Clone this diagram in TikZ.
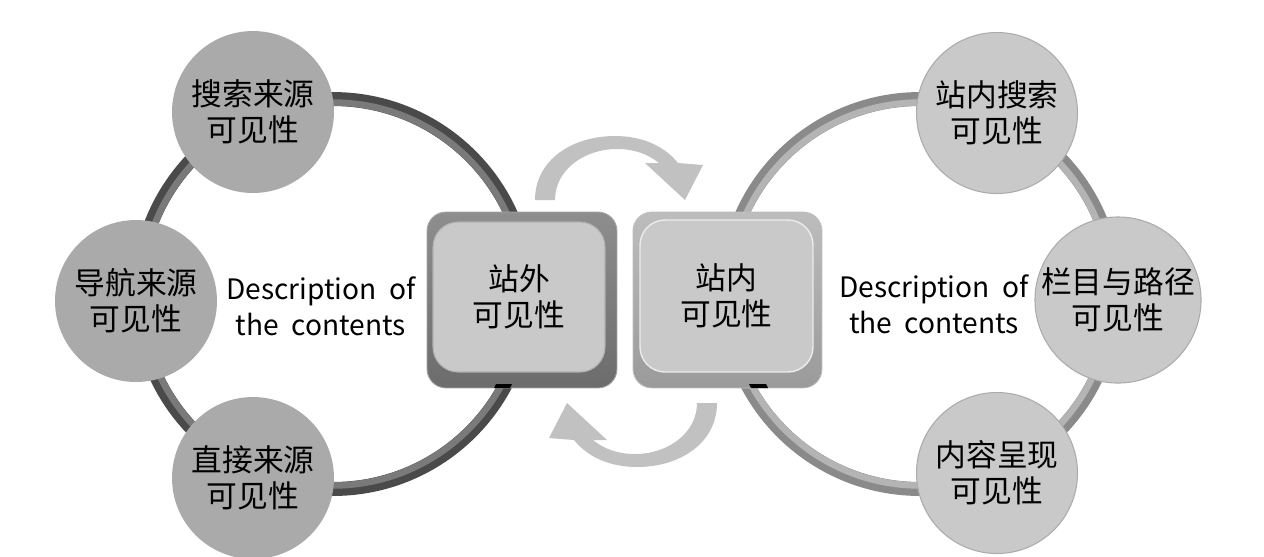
\documentclass[tikz,border=0pt]{standalone}
\usepackage{fontspec}
\setmainfont{Noto Sans CJK SC}
\definecolor{ringLout}{HTML}{4A4A4A}
\definecolor{ringLin}{HTML}{7A7A7A}
\definecolor{ringRout}{HTML}{8A8A8A}
\definecolor{ringRin}{HTML}{B4B4B4}
\definecolor{bubL}{HTML}{A9AAA9}
\definecolor{bubR}{HTML}{C9C9C9}
\definecolor{bubRedge}{HTML}{ABABAB}
\definecolor{arrowgray}{HTML}{C0C1C0}
\definecolor{frameLtop}{HTML}{8E8E8E}
\definecolor{frameLbot}{HTML}{6C6C6C}
\definecolor{frameRtop}{HTML}{BDBDBD}
\definecolor{frameRbot}{HTML}{9A9A9A}
\definecolor{facegray}{HTML}{C9C9C9}
\begin{document}
\begin{tikzpicture}[x=0.02cm,y=-0.02cm,
  cntext/.style={font=\fontsize{17.5}{20.5}\selectfont, align=center, text=black},
  bubbleL/.style={circle, fill=bubL, draw=none, minimum size=3.24cm, inner sep=0pt, cntext},
  bubbleR/.style={circle, fill=bubR, draw=bubRedge, line width=0.6pt, minimum size=3.22cm, inner sep=0pt, cntext},
  desc/.style={font=\fontsize{16}{20.5}\selectfont, align=center, text=black},
  frameL/.style={rectangle, rounded corners=0.38cm, top color=frameLtop, bottom color=frameLbot, draw=frameLtop!80!white, line width=0.5pt, minimum width=3.8cm, minimum height=3.52cm},
  frameR/.style={rectangle, rounded corners=0.38cm, top color=frameRtop, bottom color=frameRbot, draw=frameRtop, line width=0.5pt, minimum width=3.78cm, minimum height=3.52cm},
  faceL/.style={rectangle, rounded corners=0.5cm, fill=facegray, draw=frameLtop!70!white, line width=0.6pt, minimum width=3.44cm, minimum height=3.0cm, cntext},
  faceR/.style={rectangle, rounded corners=0.5cm, fill=facegray, draw=white!85!gray, line width=0.8pt, minimum width=3.46cm, minimum height=3.04cm, cntext},
  cyclearrow/.style={fill=arrowgray, draw=none}
]
\useasboundingbox (0,0) rectangle (1264,556);

% rings
\coordinate (cL) at (333,294);
\coordinate (cR) at (920,294);
\draw[ringLout, line width=0.28cm] (cL) circle[radius=3.9cm];
\draw[ringLin, line width=0.13cm] (cL) circle[radius=3.83cm];
\draw[ringRout, line width=0.28cm] (cR) circle[radius=3.9cm];
\draw[ringRin, line width=0.13cm] (cR) circle[radius=3.83cm];

% cycle arrows
\path[cyclearrow] (535,200) .. controls (535,160) and (572,136) .. (615,136)
  .. controls (645,136) and (666,148) .. (678,163)
  -- (703,165) -- (685,200) -- (645,163) -- (659,163)
  .. controls (648,154) and (634,149) .. (617,149)
  .. controls (584,149) and (555,170) .. (555,200) -- cycle;
\path[cyclearrow] (717,403) .. controls (717,443) and (680,467) .. (637,467)
  .. controls (607,467) and (586,455) .. (574,440)
  -- (549,438) -- (567,403) -- (607,440) -- (593,440)
  .. controls (604,449) and (618,454) .. (635,454)
  .. controls (668,454) and (697,433) .. (697,403) -- cycle;

% boxes
\node[frameL] (boxL) at (522,300) {};
\node[faceL] (outside) at (519,297) {站外\\可见性};
\node[frameR] (boxR) at (727.5,300) {};
\node[faceR] (inside) at (726.5,296) {站内\\可见性};
\fill[black] (494,388) -- (496,384) -- (512,384) -- (510,388) -- cycle;
\fill[black] (749,384) -- (766,384) -- (768,388) -- (751,388) -- cycle;

% left bubbles
\node[bubbleL] (search) at (253,112) {搜索来源\\可见性};
\node[bubbleL] (nav) at (136,301) {导航来源\\可见性};
\node[bubbleL] (direct) at (253,478) {直接来源\\可见性};

% right bubbles
\node[bubbleR] (sitesearch) at (997,113) {站内搜索\\可见性};
\node[bubbleR] (column) at (1118,300) {栏目与路径\\可见性};
\node[bubbleR] (content) at (997,473) {内容呈现\\可见性};

% descriptions
\node[desc] (descL) at (321,306) {Description\ \ of\\the\ \ contents};
\node[desc] (descR) at (934,304) {Description\ \ of\\the\ \ contents};
\end{tikzpicture}
\end{document}
